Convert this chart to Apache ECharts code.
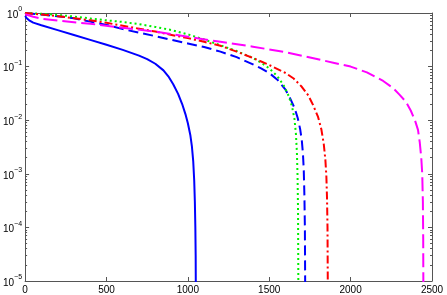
<!DOCTYPE html>
<html><head><meta charset="utf-8">
<script src="https://cdn.jsdelivr.net/npm/echarts@6/dist/echarts.min.js"></script>
<style>html,body{margin:0;padding:0;background:#fff}#c{width:447px;height:295px}</style>
</head><body><div id="c"></div>
<script>
// ---- data ----
const xTickValues = [0, 500, 1000, 1500, 2000, 2500];
const yTickValues = [1e-5, 1e-4, 1e-3, 1e-2, 1e-1, 1];

const blueSolidX = [0, 10, 25, 50, 100, 200, 300, 400, 500, 600, 700, 750, 800, 850, 880, 910, 940, 965, 985, 1000, 1015, 1025, 1033, 1039, 1043, 1046, 1048, 1049];
const blueSolidY = [0.88, 0.80, 0.73, 0.66, 0.59, 0.48, 0.39, 0.315, 0.255, 0.205, 0.16, 0.138, 0.113, 0.085, 0.066, 0.047, 0.031, 0.02, 0.013, 0.0088, 0.0053, 0.0032, 0.0017, 0.00075, 0.0003, 0.0001, 0.00003, 0.000006];

const blueDashX = [0, 100, 200, 300, 400, 500, 600, 700, 800, 900, 1000, 1100, 1200, 1300, 1400, 1450, 1500, 1550, 1600, 1630, 1655, 1675, 1690, 1700, 1707, 1712, 1716, 1719, 1721];
const blueDashY = [1.0, 0.94, 0.87, 0.8, 0.69, 0.6, 0.5, 0.43, 0.37, 0.315, 0.27, 0.232, 0.19, 0.15, 0.11, 0.093, 0.076, 0.057, 0.037, 0.025, 0.017, 0.011, 0.0068, 0.0042, 0.0024, 0.0012, 0.0004, 0.0001, 0.000006];

const greenDotX = [0, 100, 200, 300, 400, 500, 600, 700, 800, 900, 1000, 1100, 1200, 1300, 1400, 1450, 1500, 1550, 1590, 1620, 1640, 1655, 1664, 1670, 1674, 1677, 1679];
const greenDotY = [1.0, 0.97, 0.92, 0.86, 0.79, 0.73, 0.68, 0.62, 0.55, 0.48, 0.40, 0.32, 0.25, 0.195, 0.145, 0.118, 0.093, 0.066, 0.044, 0.028, 0.018, 0.0105, 0.0055, 0.0025, 0.0009, 0.0002, 0.000006];

const redDashDotX = [0, 100, 200, 300, 400, 500, 600, 700, 800, 900, 1000, 1100, 1200, 1300, 1400, 1500, 1600, 1650, 1700, 1740, 1770, 1800, 1820, 1835, 1845, 1851, 1855, 1858, 1860];
const redDashDotY = [1.0, 0.94, 0.87, 0.80, 0.73, 0.655, 0.58, 0.51, 0.45, 0.39, 0.34, 0.29, 0.245, 0.19, 0.145, 0.107, 0.076, 0.06, 0.042, 0.029, 0.019, 0.0115, 0.0068, 0.0036, 0.0018, 0.0009, 0.00035, 0.0001, 0.000006];

const magentaX = [0, 25, 50, 100, 200, 400, 600, 800, 1000, 1200, 1400, 1600, 1800, 1900, 2000, 2100, 2200, 2260, 2300, 2340, 2370, 2395, 2414, 2425, 2434, 2440, 2444, 2446, 2447];
const magentaY = [0.95, 0.9, 0.85, 0.78, 0.72, 0.63, 0.53, 0.45, 0.36, 0.29, 0.235, 0.186, 0.137, 0.117, 0.1, 0.078, 0.054, 0.04, 0.030, 0.022, 0.015, 0.01, 0.0066, 0.0038, 0.002, 0.001, 0.0003, 0.00006, 0.000006];

// ---- build ----
function zip(xs, ys) { return xs.map((x, i) => [x, ys[i]]); }
const minorTicks = [];
for (let e = -5; e < 0; e++) for (let m = 2; m <= 9; m++) minorTicks.push(m * Math.pow(10, e));

const axisColor = '#555';
const font = 'Liberation Sans, Arial, Helvetica, sans-serif';

function xAx(pos, labels) {
  return {
    type: 'value', position: pos, min: 0, max: 2500, interval: 500,
    axisLine: { show: true, onZero: false, lineStyle: { color: axisColor, width: 1 } },
    axisTick: { show: true, inside: true, length: 4, lineStyle: { color: axisColor } },
    axisLabel: { show: labels, color: '#000', fontSize: 10, fontFamily: font, margin: 4,
      customValues: xTickValues, formatter: function (v) { return String(v); } },
    splitLine: { show: false }
  };
}
function yAx(pos, labels, minor) {
  return {
    type: 'log', logBase: 10, position: pos, min: 1e-5, max: 1,
    axisLine: { show: !minor, onZero: false, lineStyle: { color: axisColor, width: 1 } },
    axisTick: minor ? { show: true, inside: true, length: 2, customValues: minorTicks, lineStyle: { color: axisColor } }
                    : { show: true, inside: true, length: 4, customValues: yTickValues, lineStyle: { color: axisColor } },
    axisLabel: labels ? {
      show: true, margin: 3, fontFamily: font, customValues: yTickValues,
      formatter: function (v) { const e = Math.round(Math.log10(v)); return '{b|10}{s|' + (e < 0 ? '\u2212' + (-e) : e) + '}'; },
      rich: {
        b: { fontSize: 10, color: '#000', fontFamily: font, lineHeight: 14, verticalAlign: 'bottom', padding: [6, 0, 0, 0] },
        s: { fontSize: 7, color: '#000', fontFamily: font, lineHeight: 14, verticalAlign: 'top', padding: [0, 0, 6, 0] }
      }
    } : { show: false },
    splitLine: { show: false }
  };
}

function line(name, xs, ys, color, type) {
  return {
    name, type: 'line', xAxisIndex: 0, yAxisIndex: 0, data: zip(xs, ys),
    showSymbol: false, symbol: 'none', smooth: false, clip: true,
    lineStyle: { color, width: 2, type, cap: 'butt', join: 'round' }, z: 3
  };
}

const chart = echarts.init(document.getElementById('c'), null, { renderer: 'canvas' });
chart.setOption({
  animation: false,
  backgroundColor: '#fff',
  grid: { left: 22, right: 15, top: 13, bottom: 13, containLabel: false },
  xAxis: [xAx('bottom', true), xAx('top', false)],
  yAxis: [yAx('left', true, false), yAx('left', false, true), yAx('right', false, false), yAx('right', false, true)],
  series: [
    line('s1', blueSolidX, blueSolidY, '#0000ff', 'solid'),
    line('s2', blueDashX, blueDashY, '#0000ff', [10, 5]),
    line('s3', greenDotX, greenDotY, '#00ee00', [2, 3]),
    line('s4', redDashDotX, redDashDotY, '#ff0000', [8, 3, 2, 3]),
    line('s5', magentaX, magentaY, '#ff00ff', [14, 5])
  ]
});
</script></body></html>
